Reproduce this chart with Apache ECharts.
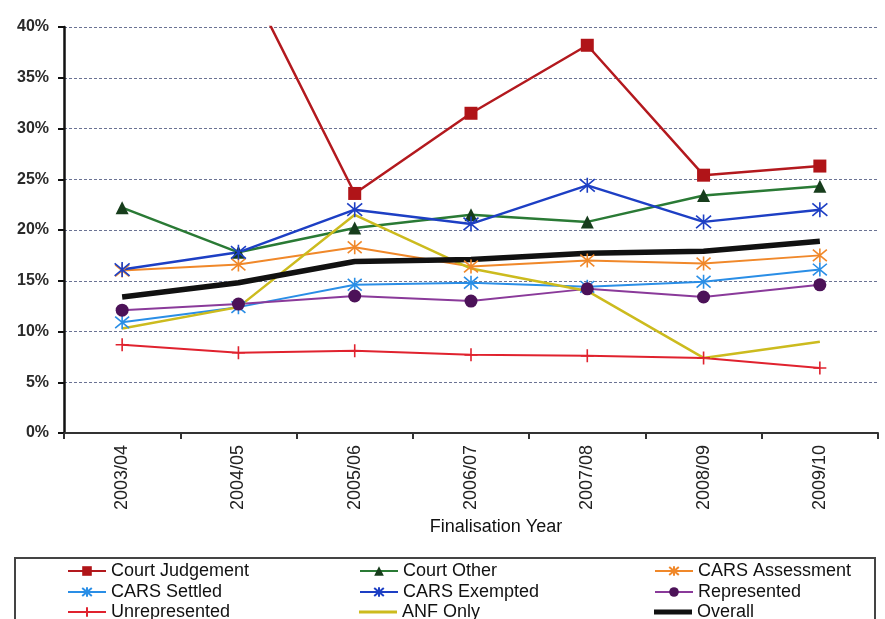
<!DOCTYPE html>
<html>
<head>
<meta charset="utf-8">
<script src="https://cdn.jsdelivr.net/npm/echarts@6/dist/echarts.min.js"></script>
<style>
  html, body { margin: 0; padding: 0; background: #fff; }
  #chart { width: 885px; height: 619px; }
</style>
</head>
<body>
<div id="chart"></div>
<script>
// Finalisation years (x categories)
const years = ['2003/04', '2004/05', '2005/06', '2006/07', '2007/08', '2008/09', '2009/10'];

// Percentages per finalisation type
const courtJudgement   = [45.0, 46.4, 23.6, 31.5, 38.2, 25.4, 26.3];
const courtOther       = [22.2, 17.8, 20.2, 21.5, 20.8, 23.4, 24.3];
const carsAssessment   = [16.0, 16.6, 18.3, 16.4, 17.0, 16.7, 17.5];
const carsSettled      = [10.9, 12.4, 14.6, 14.8, 14.4, 14.9, 16.1];
const carsExempted     = [16.1, 17.8, 22.0, 20.6, 24.4, 20.8, 22.0];
const represented      = [12.1, 12.7, 13.5, 13.0, 14.2, 13.4, 14.6];
const unrepresented    = [8.7, 7.9, 8.1, 7.7, 7.6, 7.4, 6.4];
const anfOnly          = [10.3, 12.4, 21.5, 16.2, 14.0, 7.4, 9.0];
const overall          = [13.4, 14.8, 16.9, 17.1, 17.7, 17.9, 18.9];

// Y axis range (percent)
const yMin = 0, yMax = 40, yStep = 5;

const STAR = 'path://M0,0L10,10M10,0L0,10M5,-1L5,11';
const PLUS = 'path://M5,0L5,10M0,5L10,5';
const FONT = 'Liberation Sans, Arial, sans-serif';

function strokeSymbolSeries(name, data, color, symbol, size, width) {
  return {
    name, type: 'line', data,
    symbol, symbolSize: size, showAllSymbol: true,
    lineStyle: { color, width },
    itemStyle: { color: 'rgba(0,0,0,0)', borderColor: color, borderWidth: 1.6 },
    emphasis: { disabled: true }
  };
}

function filledSymbolSeries(name, data, lineColor, markColor, symbol, size, width) {
  return {
    name, type: 'line', data,
    symbol, symbolSize: size, showAllSymbol: true,
    lineStyle: { color: lineColor, width },
    itemStyle: { color: markColor, borderColor: markColor, borderWidth: 0 },
    emphasis: { disabled: true }
  };
}

function plainSeries(name, data, color, width) {
  return {
    name, type: 'line', data, showSymbol: false, symbol: 'none',
    lineStyle: { color, width }, itemStyle: { color },
    emphasis: { disabled: true }
  };
}

const series = [
  filledSymbolSeries('Court Judgement', courtJudgement, '#b3191e', '#b01418', 'rect', 13, 2.5),
  filledSymbolSeries('Court Other', courtOther, '#2a7a35', '#173d1c', 'triangle', 13, 2.5),
  strokeSymbolSeries('CARS Assessment', carsAssessment, '#f0882a', STAR, 14, 2),
  strokeSymbolSeries('CARS Settled', carsSettled, '#2a8ee6', STAR, 14, 2),
  strokeSymbolSeries('CARS Exempted', carsExempted, '#1d3fc4', STAR, 15, 2.5),
  filledSymbolSeries('Represented', represented, '#8a3a9a', '#4c1258', 'circle', 13, 2),
  strokeSymbolSeries('Unrepresented', unrepresented, '#e0222e', PLUS, 13, 2),
  plainSeries('ANF Only', anfOnly, '#ccbb1e', 2.5),
  plainSeries('Overall', overall, '#111', 5.5)
];

// One legend component per entry, laid out as a 3 x 3 table
const legendCols = [67, 359, 654];
const legendRows = [562, 583, 603];
const legendLayout = [
  ['Court Judgement', 0, 0], ['Court Other', 1, 0], ['CARS Assessment', 2, 0],
  ['CARS Settled', 0, 1], ['CARS Exempted', 1, 1], ['Represented', 2, 1],
  ['Unrepresented', 0, 2], ['ANF Only', 1, 2], ['Overall', 2, 2]
];
const lineOnly = { 'ANF Only': ['#ccbb1e', 3], 'Overall': ['#111', 5] };

const legends = legendLayout.map(([name, c, r]) => {
  const plain = lineOnly[name];
  const entry = plain ? { name, icon: 'rect', itemStyle: { color: plain[0] } } : name;
  return {
    left: legendCols[c], top: legendRows[r], padding: 0,
    itemWidth: 38, itemHeight: plain ? plain[1] : 12,
    selectedMode: false,
    textStyle: { fontFamily: FONT, fontSize: 18, color: '#111', lineHeight: 16 },
    data: [entry]
  };
});

const chart = echarts.init(document.getElementById('chart'), null, { renderer: 'canvas' });
chart.setOption({
  animation: false,
  backgroundColor: '#fff',
  grid: { left: 64, right: 7, top: 27, bottom: 186, containLabel: false },
  xAxis: {
    type: 'category', data: years, boundaryGap: true,
    name: 'Finalisation Year', nameLocation: 'middle', nameGap: 84,
    nameTextStyle: { fontFamily: FONT, fontSize: 18, color: '#111', padding: [0, 0, 0, 50] },
    axisLine: { lineStyle: { color: '#333', width: 2 } },
    axisTick: { show: true, inside: false, length: 6, lineStyle: { color: '#333', width: 2 } },
    axisLabel: { rotate: 90, margin: 12, interval: 0, fontFamily: FONT, fontSize: 18, color: '#222' },
    splitLine: { show: false }
  },
  yAxis: {
    type: 'value', min: yMin, max: yMax, interval: yStep,
    axisLine: { show: true, lineStyle: { color: '#111', width: 2.5 } },
    axisTick: { show: true, length: 6, lineStyle: { color: '#111', width: 2 } },
    axisLabel: {
      formatter: '{value}%', margin: 15,
      fontFamily: FONT, fontSize: 16, fontWeight: 'bold', color: '#2a2a2a'
    },
    splitLine: { show: true, lineStyle: { color: '#6b7394', type: [3, 2], width: 1.2 } }
  },
  legend: legends,
  graphic: [{
    type: 'rect', z: -1,
    shape: { x: 15, y: 558, width: 860, height: 80 },
    style: { fill: 'none', stroke: '#444', lineWidth: 2 }
  }],
  series
});
</script>
</body>
</html>
